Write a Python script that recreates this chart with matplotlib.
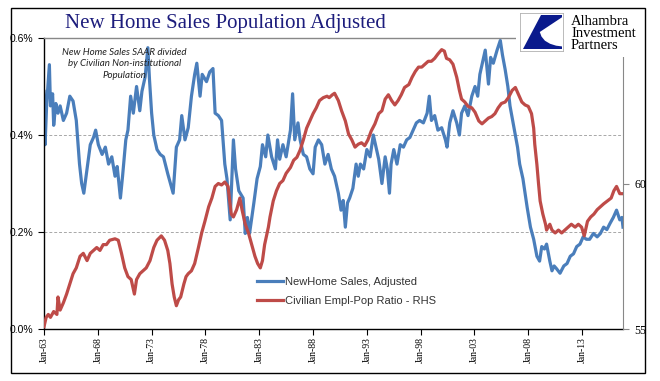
import matplotlib.pyplot as plt
from matplotlib.patches import Rectangle, Polygon

# New home sales SAAR divided by civilian non-institutional population, in %
sales_years = [1963.0, 1963.1, 1963.25, 1963.5, 1963.6, 1963.8, 1963.9, 1964.1, 1964.3, 1964.5,
               1964.8, 1965.1, 1965.4, 1965.7, 1966.0, 1966.3, 1966.5, 1966.7, 1967.0, 1967.3,
               1967.6, 1967.8, 1968.05, 1968.4, 1968.7, 1969.0, 1969.3, 1969.6, 1969.8, 1970.1,
               1970.3, 1970.6, 1970.8, 1971.05, 1971.3, 1971.6, 1971.9, 1972.1, 1972.4, 1972.65,
               1972.8, 1973.0, 1973.2, 1973.5, 1973.8, 1974.1, 1974.5, 1975.0, 1975.3, 1975.6,
               1975.8, 1976.1, 1976.4, 1976.7, 1977.0, 1977.2, 1977.5, 1977.7, 1978.1, 1978.4,
               1978.7, 1978.9, 1979.2, 1979.5, 1979.8, 1980.0, 1980.3, 1980.6, 1980.8, 1981.1,
               1981.5, 1981.7, 1981.9, 1982.1, 1982.5, 1982.8, 1983.1, 1983.3, 1983.6, 1983.8,
               1984.15, 1984.5, 1984.7, 1984.9, 1985.2, 1985.5, 1985.9, 1986.1, 1986.3, 1986.6,
               1986.8, 1987.1, 1987.4, 1987.7, 1988.0, 1988.2, 1988.5, 1988.8, 1989.1, 1989.4,
               1989.7, 1990.0, 1990.35, 1990.6, 1990.8, 1991.0, 1991.2, 1991.4, 1991.7, 1992.0,
               1992.2, 1992.4, 1992.7, 1993.0, 1993.3, 1993.6, 1993.85, 1994.1, 1994.4, 1994.7,
               1994.9, 1995.1, 1995.25, 1995.5, 1995.8, 1996.1, 1996.4, 1996.7, 1997.0, 1997.3,
               1997.6, 1997.9, 1998.25, 1998.6, 1998.8, 1999.0, 1999.3, 1999.6, 1999.95, 2000.3,
               2000.45, 2000.7, 2001.0, 2001.35, 2001.6, 2001.8, 2002.1, 2002.4, 2002.75, 2003.05,
               2003.3, 2003.5, 2003.8, 2004.0, 2004.3, 2004.5, 2004.75, 2005.1, 2005.4, 2005.6,
               2005.85, 2006.1, 2006.3, 2006.55, 2006.8, 2007.0, 2007.2, 2007.5, 2007.7, 2007.9,
               2008.2, 2008.5, 2008.8, 2009.05, 2009.25, 2009.5, 2009.7, 2010.0, 2010.2, 2010.4,
               2010.6, 2010.95, 2011.3, 2011.6, 2011.9, 2012.2, 2012.5, 2012.8, 2013.1, 2013.4,
               2013.7, 2014.05, 2014.4, 2014.7, 2015.0, 2015.3, 2015.6, 2015.9, 2016.2, 2016.5,
               2016.7, 2016.8]
sales_pct = [0.49, 0.38, 0.465, 0.545, 0.46, 0.485, 0.42, 0.465, 0.445, 0.46,
             0.43, 0.445, 0.48, 0.47, 0.43, 0.34, 0.30, 0.28, 0.33, 0.38,
             0.395, 0.41, 0.38, 0.36, 0.375, 0.34, 0.355, 0.315, 0.335, 0.27,
             0.315, 0.39, 0.41, 0.48, 0.445, 0.50, 0.45, 0.49, 0.52, 0.58,
             0.515, 0.445, 0.40, 0.37, 0.36, 0.355, 0.32, 0.28, 0.375, 0.39,
             0.44, 0.39, 0.415, 0.48, 0.525, 0.548, 0.48, 0.525, 0.51, 0.53,
             0.537, 0.445, 0.44, 0.43, 0.34, 0.31, 0.225, 0.39, 0.33, 0.285,
             0.27, 0.197, 0.23, 0.197, 0.26, 0.31, 0.335, 0.38, 0.355, 0.40,
             0.355, 0.33, 0.39, 0.35, 0.38, 0.355, 0.41, 0.485, 0.39, 0.425,
             0.39, 0.36, 0.355, 0.33, 0.32, 0.375, 0.39, 0.38, 0.34, 0.36,
             0.33, 0.315, 0.28, 0.245, 0.265, 0.21, 0.26, 0.27, 0.29, 0.34,
             0.315, 0.34, 0.33, 0.37, 0.355, 0.40, 0.375, 0.35, 0.30, 0.355,
             0.33, 0.28, 0.34, 0.37, 0.34, 0.38, 0.375, 0.39, 0.395, 0.41,
             0.425, 0.43, 0.425, 0.445, 0.48, 0.43, 0.44, 0.41, 0.415, 0.39,
             0.375, 0.425, 0.45, 0.425, 0.40, 0.445, 0.46, 0.44, 0.48, 0.50,
             0.48, 0.525, 0.555, 0.575, 0.505, 0.56, 0.548, 0.575, 0.595, 0.565,
             0.535, 0.50, 0.46, 0.43, 0.40, 0.375, 0.34, 0.31, 0.28, 0.25,
             0.21, 0.185, 0.15, 0.14, 0.17, 0.165, 0.175, 0.14, 0.12, 0.13,
             0.125, 0.115, 0.13, 0.135, 0.15, 0.155, 0.17, 0.175, 0.19, 0.185,
             0.185, 0.197, 0.19, 0.197, 0.21, 0.205, 0.218, 0.23, 0.245, 0.225,
             0.23, 0.21]

# Civilian employment-population ratio (right hand scale)
epop_years = [1963.0, 1963.2, 1963.4, 1963.6, 1963.9, 1964.2, 1964.3, 1964.5, 1964.8, 1965.1,
              1965.4, 1965.7, 1966.0, 1966.35, 1966.65, 1967.0, 1967.3, 1967.6, 1967.9, 1968.2,
              1968.5, 1968.8, 1969.1, 1969.6, 1969.9, 1970.2, 1970.5, 1970.8, 1971.1, 1971.4,
              1971.6, 1971.9, 1972.2, 1972.5, 1972.85, 1973.2, 1973.5, 1973.9, 1974.2, 1974.5,
              1974.7, 1974.9, 1975.1, 1975.3, 1975.5, 1975.7, 1976.0, 1976.2, 1976.4, 1976.7,
              1977.0, 1977.35, 1977.65, 1977.95, 1978.3, 1978.6, 1978.9, 1979.2, 1979.5, 1979.8,
              1980.1, 1980.4, 1980.6, 1980.9, 1981.2, 1981.4, 1981.7, 1982.0, 1982.3, 1982.6,
              1982.85, 1983.1, 1983.3, 1983.5, 1983.85, 1984.0, 1984.3, 1984.6, 1984.9, 1985.2,
              1985.5, 1985.9, 1986.2, 1986.5, 1986.8, 1987.1, 1987.4, 1987.7, 1988.0, 1988.3,
              1988.6, 1988.95, 1989.3, 1989.5, 1989.8, 1990.0, 1990.35, 1990.65, 1991.0, 1991.3,
              1991.6, 1991.9, 1992.2, 1992.5, 1992.8, 1993.1, 1993.4, 1993.75, 1994.1, 1994.4,
              1994.7, 1995.0, 1995.3, 1995.6, 1995.9, 1996.2, 1996.5, 1996.9, 1997.2, 1997.5,
              1997.8, 1998.1, 1998.4, 1998.7, 1999.0, 1999.3, 1999.6, 1999.95, 2000.2, 2000.4,
              2000.7, 2001.0, 2001.35, 2001.6, 2001.8, 2002.1, 2002.4, 2002.75, 2003.05, 2003.4,
              2003.7, 2004.0, 2004.3, 2004.6, 2004.9, 2005.2, 2005.5, 2005.85, 2006.15, 2006.5,
              2006.8, 2007.1, 2007.4, 2007.7, 2008.0, 2008.3, 2008.5, 2008.6, 2008.8, 2008.95,
              2009.1, 2009.35, 2009.6, 2009.7, 2010.0, 2010.2, 2010.5, 2010.8, 2011.1, 2011.4,
              2011.7, 2012.0, 2012.35, 2012.65, 2012.95, 2013.2, 2013.5, 2013.8, 2014.1, 2014.4,
              2014.7, 2015.0, 2015.35, 2015.7, 2015.95, 2016.2, 2016.5, 2016.8]
epop_ratio = [55.08, 55.4, 55.5, 55.4, 55.6, 55.5, 56.1, 55.65, 55.9, 56.2,
              56.55, 56.9, 57.1, 57.5, 57.6, 57.35, 57.6, 57.7, 57.8, 57.7,
              57.9, 57.9, 58.05, 58.1, 58.05, 57.6, 57.1, 56.8, 56.7, 56.2,
              56.7, 56.9, 57.0, 57.1, 57.35, 57.8, 58.05, 58.2, 58.05, 57.7,
              57.25, 56.55, 56.1, 55.8, 56.0, 56.1, 56.55, 56.8, 56.9, 57.0,
              57.25, 57.8, 58.3, 58.7, 59.2, 59.5, 59.9, 60.0, 59.95, 60.05,
              59.9, 58.95, 58.85, 59.1, 59.5, 59.1, 58.6, 58.3, 57.9, 57.5,
              57.25, 57.1, 57.35, 57.9, 58.5, 58.85, 59.4, 59.75, 60.0, 60.1,
              60.35, 60.55, 60.8, 60.9, 61.15, 61.5, 61.9, 62.15, 62.4, 62.6,
              62.85, 62.95, 63.0, 62.95, 63.05, 63.1, 62.85, 62.5, 62.15, 61.7,
              61.5, 61.25, 61.35, 61.4, 61.3, 61.5, 61.8, 62.05, 62.4, 62.5,
              62.9, 63.05, 62.85, 62.7, 62.85, 63.05, 63.3, 63.4, 63.65, 63.85,
              64.0, 64.0, 64.1, 64.2, 64.2, 64.3, 64.45, 64.6, 64.55, 64.3,
              64.25, 64.1, 63.65, 63.2, 62.9, 62.8, 62.65, 62.6, 62.45, 62.15,
              62.05, 62.15, 62.25, 62.3, 62.4, 62.6, 62.75, 62.8, 62.95, 63.2,
              63.3, 63.05, 62.8, 62.7, 62.65, 62.4, 61.9, 61.35, 60.65, 60.0,
              59.4, 58.95, 58.6, 58.4, 58.6, 58.4, 58.3, 58.4, 58.3, 58.4,
              58.5, 58.6, 58.5, 58.6, 58.5, 58.2, 58.7, 58.85, 58.95, 59.1,
              59.2, 59.3, 59.4, 59.5, 59.75, 59.9, 59.65, 59.65]

tick_years = [1963, 1968, 1973, 1978, 1983, 1988, 1993, 1998, 2003, 2008, 2013]
tick_labels = ['Jan-63', 'Jan-68', 'Jan-73', 'Jan-78', 'Jan-83', 'Jan-88',
               'Jan-93', 'Jan-98', 'Jan-03', 'Jan-08', 'Jan-13']
left_ticks = [0.0, 0.2, 0.4, 0.6]
right_ticks = [55, 60]

W, H = 660, 381
def fx(px):
    return px / W
def fy(py):
    return 1 - py / H

blue = '#4a7ebb'
red = '#be4b48'
serif = 'Liberation Serif'
sans = 'Liberation Sans'

fig = plt.figure(figsize=(6.6, 3.81), dpi=100)
fig.patch.set_facecolor('white')

ax = fig.add_axes([fx(44), fy(329), fx(623) - fx(44), fy(38) - fy(329)])
ax2 = ax.twinx()

ax.plot(sales_years, sales_pct, color=blue, lw=2.3, solid_joinstyle='round',
        label='NewHome Sales, Adjusted')
ax2.plot(epop_years, epop_ratio, color=red, lw=2.3, solid_joinstyle='round',
         label='Civilian Empl-Pop Ratio - RHS')

ax.set_xlim(1963, 2016.8)
ax.set_ylim(0, 0.6)
ax2.set_ylim(55, 65)

ax.set_xticks(tick_years)
ax.set_xticklabels(tick_labels, rotation=90, family=serif, fontsize=7)
ax.set_yticks(left_ticks)
ax.set_yticklabels(['%.1f%%' % v for v in left_ticks], family=sans, fontsize=7.5)
ax2.set_yticks(right_ticks)
ax2.set_yticklabels([str(v) for v in right_ticks], family=serif, fontsize=8.5)

ax.tick_params(axis='x', direction='out', length=4, width=0.8, pad=2)
ax.tick_params(axis='y', direction='out', length=4, width=0.8, pad=4)
ax2.tick_params(axis='y', direction='out', length=4, width=0.8, pad=4, color='#888888')

ax.yaxis.grid(True, color='#a8a8a8', linestyle=(0, (3, 2)), lw=0.7)
ax.set_axisbelow(True)

for s in ['left', 'bottom']:
    ax.spines[s].set_color('black')
    ax.spines[s].set_linewidth(1.0)
ax.spines['top'].set_color('#888888')
ax.spines['top'].set_linewidth(1.0)
ax.spines['right'].set_visible(False)
for s in ['left', 'bottom', 'top']:
    ax2.spines[s].set_visible(False)
ax2.spines['right'].set_color('#888888')

# legend from both axes
h1, l1 = ax.get_legend_handles_labels()
h2, l2 = ax2.get_legend_handles_labels()
leg = ax2.legend(h1 + h2, l1 + l2, loc='upper left', bbox_to_anchor=(fx(257), fy(277)),
                 bbox_transform=fig.transFigure, frameon=False, borderpad=0,
                 borderaxespad=0, handlelength=2.3, handletextpad=0.25,
                 labelspacing=0.8, prop={'family': sans, 'size': 8})
for t in leg.get_texts():
    t.set_color('#333333')

# note under the title
fig.text(fx(124.5), fy(64), 'New Home Sales SAAR divided\nby Civilian Non-institutional\nPopulation',
         ha='center', va='center', fontsize=7, style='italic', family='Lato',
         linespacing=1.35, color='#222222')

# title
fig.text(fx(225), fy(28), 'New Home Sales Population Adjusted', ha='center', va='baseline',
         fontsize=15, family=serif, color='#1c1c7c')

# logo block
fig.patches.append(Rectangle((fx(516), fy(57)), fx(644) - fx(516), fy(10) - fy(57),
                             transform=fig.transFigure, facecolor='white', edgecolor='none',
                             zorder=5))
lax = fig.add_axes([fx(520), fy(51), fx(563) - fx(520), fy(13) - fy(51)])
lax.set_zorder(10)
lax.set_xlim(0, 1)
lax.set_ylim(0, 1)
lax.set_xticks([])
lax.set_yticks([])
for s in lax.spines.values():
    s.set_color('#b0b0b0')
    s.set_linewidth(0.6)
navy = '#0a1a8c'
lax.add_patch(Polygon([(0.48, 0.96), (0.97, 0.96), (0.97, 0.05), (0.06, 0.05)],
                      closed=True, facecolor=navy, edgecolor='none'))
lax.add_patch(Polygon([(0.98, 0.89), (0.46, 0.50), (0.50, 0.38), (0.58, 0.27),
                       (0.70, 0.19), (0.84, 0.14), (0.98, 0.12)],
                      closed=True, facecolor='white', edgecolor='none'))
for txt, py in [('Alhambra', 25), ('Investment', 37), ('Partners', 49)]:
    t = fig.text(fx(571), fy(py), txt, ha='left', va='baseline', fontsize=10.5,
                 family=serif, color='black')
    t.set_zorder(11)

# outer border
fig.patches.append(Rectangle((fx(11), fy(373)), fx(645) - fx(11), fy(8) - fy(373),
                             transform=fig.transFigure, fill=False, edgecolor='black',
                             lw=1.0, zorder=20))

fig.savefig('out.png', dpi=100)
